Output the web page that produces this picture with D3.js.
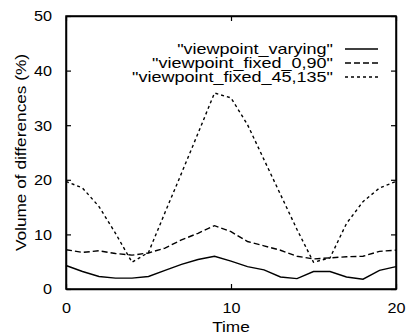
<!DOCTYPE html>
<html>
<head>
<meta charset="utf-8">
<script src="https://cdn.jsdelivr.net/npm/d3@7"></script>
<style>
  body { margin: 0; background: #fff; }
  text { font-family: "Liberation Sans", Arial, sans-serif; fill: #000; }
</style>
</head>
<body>
<div id="chart"></div>
<script>
// data
const times = d3.range(0, 21);
const varying = [4.3, 3.2, 2.3, 2.0, 2.0, 2.3, 3.4, 4.5, 5.4, 6.0, 5.1, 4.1, 3.5, 2.2, 1.9, 3.2, 3.2, 2.2, 1.8, 3.4, 4.1];
const fixed090 = [7.2, 6.7, 7.0, 6.5, 6.2, 6.6, 7.5, 9.0, 10.2, 11.6, 10.5, 8.7, 7.9, 7.1, 6.0, 5.5, 5.7, 5.9, 6.0, 6.9, 7.1];
const fixed45135 = [19.7, 18.5, 15.1, 10.2, 4.9, 6.7, 14.0, 21.2, 28.5, 35.9, 35.0, 30.1, 23.7, 17.3, 10.9, 4.9, 5.7, 12.0, 16.0, 18.5, 19.7];
const seriesNames = ['"viewpoint_varying"', '"viewpoint_fixed_0,90"', '"viewpoint_fixed_45,135"'];
const xTicks = [0, 10, 20];
const yTicks = [0, 10, 20, 30, 40, 50];

const margin = { top: 16, right: 10, bottom: 47, left: 66 };
const width = 406 - margin.left - margin.right;
const height = 336 - margin.top - margin.bottom;

const svg = d3.select("#chart")
  .append("svg")
  .attr("width", 406)
  .attr("height", 336)
  .append("g")
  .attr("transform", "translate(" + margin.left + "," + margin.top + ")");

const x = d3.scaleLinear().domain([0, 20]).range([0, width]);
const y = d3.scaleLinear().domain([0, 50]).range([height, 0]);

// the scanned lettering is a little wider than Liberation Sans, so stretch it a bit
function widen(sel, f) {
  sel.each(function () {
    const w = this.getComputedTextLength();
    d3.select(this).attr("textLength", w * f).attr("lengthAdjust", "spacingAndGlyphs");
  });
}

// axes, gnuplot style: ticks pointing inward on all four sides
svg.append("g")
  .attr("transform", "translate(0," + height + ")")
  .call(d3.axisBottom(x).tickValues(xTicks).tickSizeInner(-5).tickSizeOuter(0).tickPadding(13))
  .call(g => g.selectAll("text").style("font-size", "15px").call(widen, 1.08));
svg.append("g")
  .call(d3.axisTop(x).tickValues(xTicks).tickSizeInner(-5).tickSizeOuter(0).tickFormat(""));
svg.append("g")
  .call(d3.axisLeft(y).tickValues(yTicks).tickSizeInner(-5).tickSizeOuter(0).tickPadding(14))
  .call(g => g.selectAll("text").style("font-size", "15px").call(widen, 1.08));
svg.append("g")
  .attr("transform", "translate(" + width + ",0)")
  .call(d3.axisRight(y).tickValues(yTicks).tickSizeInner(-5).tickSizeOuter(0).tickFormat(""));
svg.selectAll(".domain").attr("stroke", "#000").attr("stroke-width", 1.5);
svg.selectAll(".tick line").attr("stroke", "#000").attr("stroke-width", 1.2);

// frame
svg.append("rect")
  .attr("width", width)
  .attr("height", height)
  .attr("fill", "none")
  .attr("stroke", "#000")
  .attr("stroke-width", 1.5);

const line = d3.line()
  .x((d, i) => x(times[i]))
  .y(d => y(d));

const styles = [null, "6,3", "3,3"];
[varying, fixed090, fixed45135].forEach(function (s, k) {
  svg.append("path")
    .datum(s)
    .attr("d", line)
    .attr("fill", "none")
    .attr("stroke", "#000")
    .attr("stroke-width", 1.4)
    .attr("stroke-dasharray", styles[k]);
});

// legend
const legend = svg.append("g").attr("transform", "translate(" + (width - 63) + ",33)");
seriesNames.forEach(function (name, k) {
  const row = legend.append("g").attr("transform", "translate(0," + (k * 14) + ")");
  row.append("text")
    .attr("x", 0)
    .attr("dy", "0.35em")
    .attr("text-anchor", "end")
    .style("font-size", "15px")
    .text(name)
    .call(widen, 1.2);
  row.append("line")
    .attr("x1", 12).attr("x2", 45)
    .attr("stroke", "#000")
    .attr("stroke-width", 1.4)
    .attr("stroke-dasharray", styles[k]);
});

// axis labels
svg.append("text")
  .attr("x", width / 2)
  .attr("y", height + 43)
  .attr("text-anchor", "middle")
  .style("font-size", "15px")
  .text("Time")
  .call(widen, 1.15);
svg.append("text")
  .attr("transform", "rotate(-90)")
  .attr("x", -height / 2)
  .attr("y", -40)
  .attr("text-anchor", "middle")
  .style("font-size", "15px")
  .text("Volume of differences (%)")
  .call(widen, 1.15);
</script>
</body>
</html>
